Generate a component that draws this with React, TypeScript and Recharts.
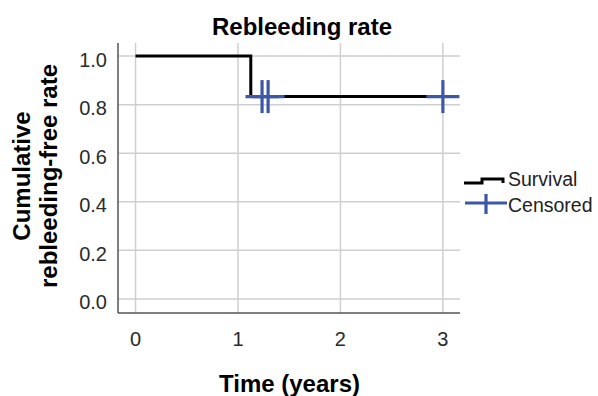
import React from 'react';
import {
  ComposedChart,
  Line,
  Scatter,
  XAxis,
  YAxis,
  CartesianGrid,
} from 'recharts';

// Kaplan-Meier steps (time in years, cumulative rebleeding-free rate)
const survivalTimes = [0, 1.125, 3];
const survivalRates = [1, 0.8333, 0.8333];

// censored observations
const censoredTimes = [1.235, 1.294, 3];
const censoredRates = [0.8333, 0.8333, 0.8333];

const xTicks = [0, 1, 2, 3];
const yTicks = [0, 0.2, 0.4, 0.6, 0.8, 1.0];

const survivalData = survivalTimes.map((t, i) => ({ t, s: survivalRates[i] }));
const censoredData = censoredTimes.map((t, i) => ({ t, s: censoredRates[i] }));

const BLUE = '#3d57a8';
const FONT = '"Liberation Sans", Arial, sans-serif';

const CensorMark = (props: any) => {
  const { cx, cy } = props;
  const a = 16.5;
  return (
    <g stroke={BLUE} strokeWidth={3.2}>
      <line x1={cx - a} y1={cy} x2={cx + a} y2={cy} />
      <line x1={cx} y1={cy - a} x2={cx} y2={cy + a} />
    </g>
  );
};

const YTick = (props: any) => {
  const { x, y, payload } = props;
  return (
    <text x={x - 3} y={y + 10.5} textAnchor="end" fontSize={20} fontFamily={FONT} fill="#2a2a2a">
      {payload.value.toFixed(1)}
    </text>
  );
};

const XTick = (props: any) => {
  const { x, y, payload } = props;
  return (
    <text x={x} y={y + 25} textAnchor="middle" fontSize={20} fontFamily={FONT} fill="#2a2a2a">
      {payload.value}
    </text>
  );
};

export default function App() {
  return (
    <div style={{ position: 'absolute', left: 0, top: 0, width: 598, height: 396, background: '#fff' }}>
      <ComposedChart
        width={598}
        height={396}
        margin={{ top: 43, right: 138, bottom: 53, left: 78 }}
      >
        <CartesianGrid
          stroke="#cfcfcf"
          strokeWidth={1.5}
          horizontalValues={yTicks}
          verticalValues={xTicks}
        />
        <XAxis
          dataKey="t"
          type="number"
          domain={[-0.171, 3.167]}
          ticks={xTicks}
          tickLine={false}
          axisLine={{ stroke: '#555', strokeWidth: 1.5 }}
          tick={<XTick />}
          height={30}
          allowDataOverflow
        />
        <YAxis
          dataKey="s"
          type="number"
          domain={[-0.058, 1.054]}
          ticks={yTicks}
          tickLine={false}
          axisLine={{ stroke: '#555', strokeWidth: 1.5 }}
          tick={<YTick />}
          width={40}
          allowDataOverflow
        />
        <Line
          data={survivalData}
          dataKey="s"
          type="stepAfter"
          stroke="#000"
          strokeWidth={3}
          dot={false}
          isAnimationActive={false}
        />
        <Scatter
          data={censoredData}
          dataKey="s"
          shape={<CensorMark />}
          isAnimationActive={false}
        />
      </ComposedChart>
      <svg
        width={598}
        height={396}
        style={{ position: 'absolute', left: 0, top: 0, pointerEvents: 'none' }}
        fontFamily={FONT}
      >
        <text x={302} y={34.5} textAnchor="middle" fontSize={24} fontWeight="bold" fill="#000">
          Rebleeding rate
        </text>
        <text x={289.5} y={392} textAnchor="middle" fontSize={24} fontWeight="bold" fill="#000">
          Time (years)
        </text>
        <g transform="translate(30,176) rotate(-90)">
          <text x={0} y={0} textAnchor="middle" fontSize={24} fontWeight="bold" fill="#000">
            Cumulative
          </text>
          <text x={0} y={27} textAnchor="middle" fontSize={24} fontWeight="bold" fill="#000">
            rebleeding-free rate
          </text>
        </g>
        <path d="M464 183 H482 V179 H503 V183" fill="none" stroke="#000" strokeWidth={3} />
        <text x={508} y={186} fontSize={19.5} fill="#222">Survival</text>
        <line x1={465} y1={203} x2={507} y2={203} stroke={BLUE} strokeWidth={3.2} />
        <line x1={486} y1={194} x2={486} y2={214} stroke={BLUE} strokeWidth={3.2} />
        <text x={508} y={212} fontSize={19.5} fill="#222">Censored</text>
      </svg>
    </div>
  );
}
